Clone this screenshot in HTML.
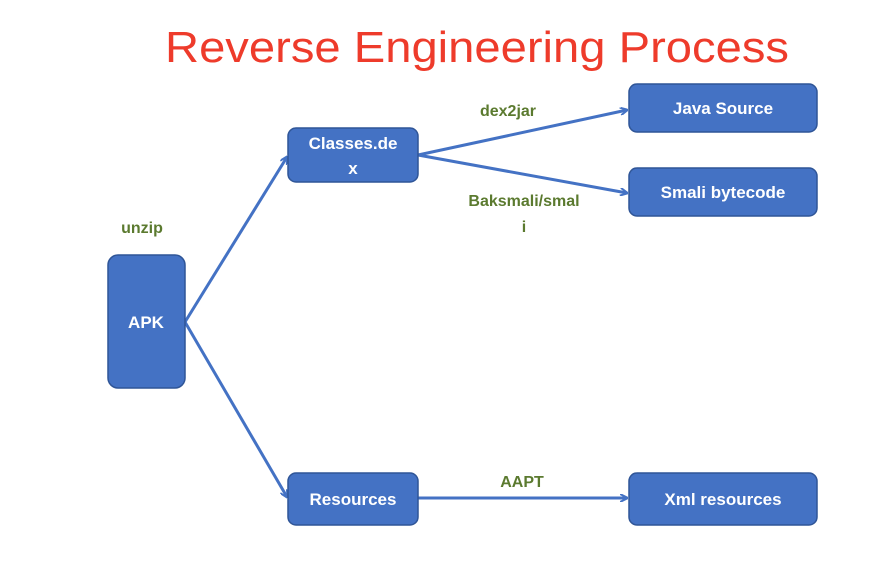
<!DOCTYPE html>
<html><head><meta charset="utf-8"><style>
body{margin:0;background:#fff}
svg{display:block}
.b{fill:#4472c4;stroke:#2f5597;stroke-width:1.5}
.t{font-family:"Liberation Sans",sans-serif;font-size:17px;font-weight:bold;fill:#fff;text-anchor:middle}
.g{font-family:"Liberation Sans",sans-serif;font-size:16px;font-weight:bold;fill:#5b7a2f;text-anchor:middle}
.l{stroke:#4472c4;stroke-width:3;fill:none}
</style></head><body>
<svg width="896" height="564" xmlns="http://www.w3.org/2000/svg">
<defs><marker id="a" markerWidth="8" markerHeight="8" refX="7" refY="4" orient="auto" markerUnits="userSpaceOnUse"><path d="M0,0 L8,4 L0,8" fill="none" stroke="#4472c4" stroke-width="2"/></marker></defs>
<text x="477" y="62" font-family="Liberation Sans,sans-serif" font-size="44" fill="#ee3b2b" text-anchor="middle" textLength="624" lengthAdjust="spacingAndGlyphs">Reverse Engineering Process</text>
<path class="l" d="M185,322 L287,157" marker-end="url(#a)"/>
<path class="l" d="M185,322 L287,497" marker-end="url(#a)"/>
<path class="l" d="M418,155 L627,110" marker-end="url(#a)"/>
<path class="l" d="M418,155 L627,193" marker-end="url(#a)"/>
<path class="l" d="M418,498 L627,498" marker-end="url(#a)"/>
<rect class="b" x="108" y="255" width="77" height="133" rx="10"/>
<text class="t" x="146" y="328">APK</text>
<rect class="b" x="288" y="128" width="130" height="54" rx="8"/>
<text class="t" x="353" y="149">Classes.de</text>
<text class="t" x="353" y="174">x</text>
<rect class="b" x="629" y="84" width="188" height="48" rx="8"/>
<text class="t" x="723" y="114">Java Source</text>
<rect class="b" x="629" y="168" width="188" height="48" rx="8"/>
<text class="t" x="723" y="198">Smali bytecode</text>
<rect class="b" x="288" y="473" width="130" height="52" rx="8"/>
<text class="t" x="353" y="505">Resources</text>
<rect class="b" x="629" y="473" width="188" height="52" rx="8"/>
<text class="t" x="723" y="505">Xml resources</text>
<text class="g" x="142" y="233">unzip</text>
<text class="g" x="508" y="116">dex2jar</text>
<text class="g" x="524" y="206">Baksmali/smal</text>
<text class="g" x="524" y="232">i</text>
<text class="g" x="522" y="487">AAPT</text>
</svg>
</body></html>
